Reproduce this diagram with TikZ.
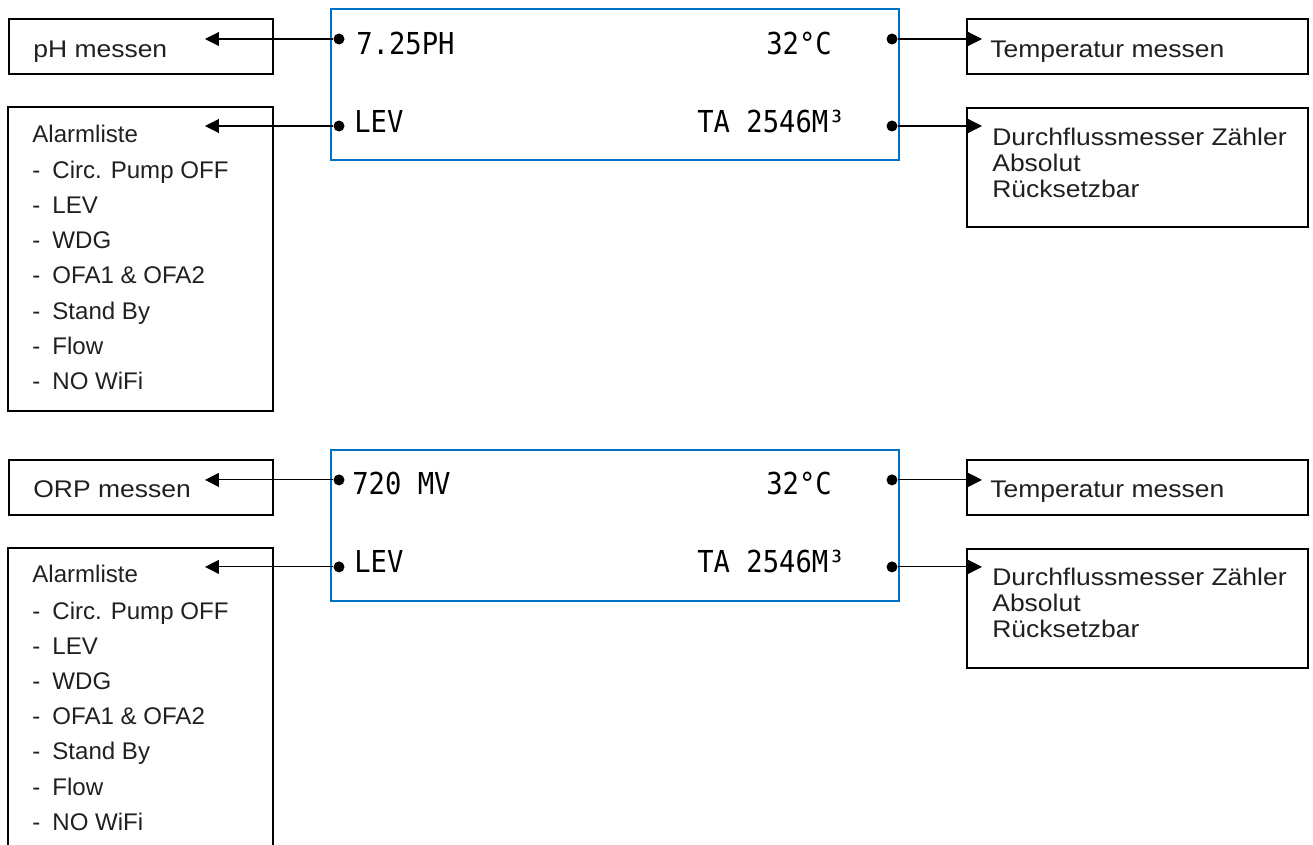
\documentclass[tikz,border=0pt]{standalone}
\usepackage{fontspec}
\setmainfont{Liberation Sans}
\newfontfamily\widefont[FakeStretch=1.1]{Liberation Sans}
\newfontfamily\lcdfont[FakeStretch=0.9]{DejaVu Sans Mono}
\usepackage{tikz}
\usetikzlibrary{arrows.meta}
\definecolor{lcdBlue}{RGB}{0,114,198}
\definecolor{inkGray}{RGB}{35,31,32}

\tikzset{
  box/.style={draw=black, line width=1.1pt, inner sep=0pt},
  lcd/.style={draw=lcdBlue, line width=1.5pt, minimum width=11.36cm, minimum height=3.02cm, inner sep=0pt},
  dot/.style={circle, fill=black, minimum size=0.22cm, inner sep=0pt},
  link/.style={line width=0.6pt, -{Triangle[length=0.28cm,width=0.28cm]}},
  lcdtxt/.style={font=\lcdfont\fontsize{17.2}{20}\selectfont, inner sep=0pt, anchor=base west},
  lbl/.style={font=\widefont\fontsize{13.7}{16}\selectfont, text=inkGray, inner sep=0pt, anchor=base west},
  alarmtxt/.style={font=\fontsize{13.7}{16}\selectfont, text=inkGray, inner sep=0pt, anchor=base west}
}

\begin{document}
\begin{tikzpicture}[x=0.02cm, y=-0.02cm]
    \useasboundingbox (0,0) rectangle (1313,845);
    \clip (0,0) rectangle (1313,845);

    % Upper display
    \node[lcd] (lcdA) at (615,84.5) {};
    \node[lcdtxt] (phval) at (356,54) {7.25PH};
    \node[lcdtxt] (tempvalA) at (766,54) {32°C};
    \node[lcdtxt] (levA) at (354,132) {LEV};
    \node[lcdtxt] (countvalA) at (697,132) {TA 2546M³};
    \node[dot] (dotA1) at (339,39) {};
    \node[dot] (dotA2) at (339,126) {};
    \node[dot] (dotA3) at (892,39) {};
    \node[dot] (dotA4) at (892,126) {};

    % Left boxes
    \node[box, minimum width=5.28cm, minimum height=1.1cm] (phbox) at (141,46.5) {};
    \node[lbl] (phtxt) at (33,57) {pH messen};
    \coordinate (phin) at (205,39);

    \node[box, minimum width=5.3cm, minimum height=6.08cm] (alarmA) at (140.5,259) {};
    \node[alarmtxt] (alarmA0) at (32,142) {Alarmliste};
    \foreach \t [count=\i] in {Circ. Pump OFF, LEV, WDG, OFA1 \& OFA2, Stand By, Flow, NO WiFi}
        \node[alarmtxt] (alarmA\i) at (32,{143+35.2*\i}) {-\enspace\t};
    \coordinate (alarmAin) at (205,126);

    % Right boxes
    \node[box, minimum width=6.82cm, minimum height=1.1cm] (tempA) at (1137.5,46.5) {};
    \node[lbl] (temptxtA) at (990,57) {Temperatur messen};
    \coordinate (tempAin) at (982,39);

    \node[box, minimum width=6.82cm, minimum height=2.38cm] (countA) at (1137.5,167.5) {};
    \node[lbl] (countA1) at (992,145) {Durchflussmesser Zähler};
    \node[lbl] (countA2) at (992,171) {Absolut};
    \node[lbl] (countA3) at (992,197) {Rücksetzbar};
    \coordinate (countAin) at (982,126);

    \draw[link] (dotA1) -- (phin);
    \draw[link] (dotA2) -- (alarmAin);
    \draw[link] (dotA3) -- (tempAin);
    \draw[link] (dotA4) -- (countAin);

    % Lower display
    \begin{scope}[yshift=-8.82cm]
    \node[lcd] (lcdB) at (615,84.5) {};
    \node[lcdtxt] (orpval) at (352,54) {720 MV};
    \node[lcdtxt] (tempvalB) at (766,54) {32°C};
    \node[lcdtxt] (levB) at (354,132) {LEV};
    \node[lcdtxt] (countvalB) at (697,132) {TA 2546M³};
    \node[dot] (dotB1) at (339,39) {};
    \node[dot] (dotB2) at (339,126) {};
    \node[dot] (dotB3) at (892,39) {};
    \node[dot] (dotB4) at (892,126) {};

    % Left boxes
    \node[box, minimum width=5.28cm, minimum height=1.1cm] (orpbox) at (141,46.5) {};
    \node[lbl] (orptxt) at (33,57) {ORP messen};
    \coordinate (orpin) at (205,39);

    \node[box, minimum width=5.3cm, minimum height=6.08cm] (alarmB) at (140.5,259) {};
    \node[alarmtxt] (alarmB0) at (32,142) {Alarmliste};
    \foreach \t [count=\i] in {Circ. Pump OFF, LEV, WDG, OFA1 \& OFA2, Stand By, Flow, NO WiFi}
        \node[alarmtxt] (alarmB\i) at (32,{143+35.2*\i}) {-\enspace\t};
    \coordinate (alarmBin) at (205,126);

    % Right boxes
    \node[box, minimum width=6.82cm, minimum height=1.1cm] (tempB) at (1137.5,46.5) {};
    \node[lbl] (temptxtB) at (990,57) {Temperatur messen};
    \coordinate (tempBin) at (982,39);

    \node[box, minimum width=6.82cm, minimum height=2.38cm] (countB) at (1137.5,167.5) {};
    \node[lbl] (countB1) at (992,145) {Durchflussmesser Zähler};
    \node[lbl] (countB2) at (992,171) {Absolut};
    \node[lbl] (countB3) at (992,197) {Rücksetzbar};
    \coordinate (countBin) at (982,126);

    \draw[link] (dotB1) -- (orpin);
    \draw[link] (dotB2) -- (alarmBin);
    \draw[link] (dotB3) -- (tempBin);
    \draw[link] (dotB4) -- (countBin);
    \end{scope}

\end{tikzpicture}
\end{document}
